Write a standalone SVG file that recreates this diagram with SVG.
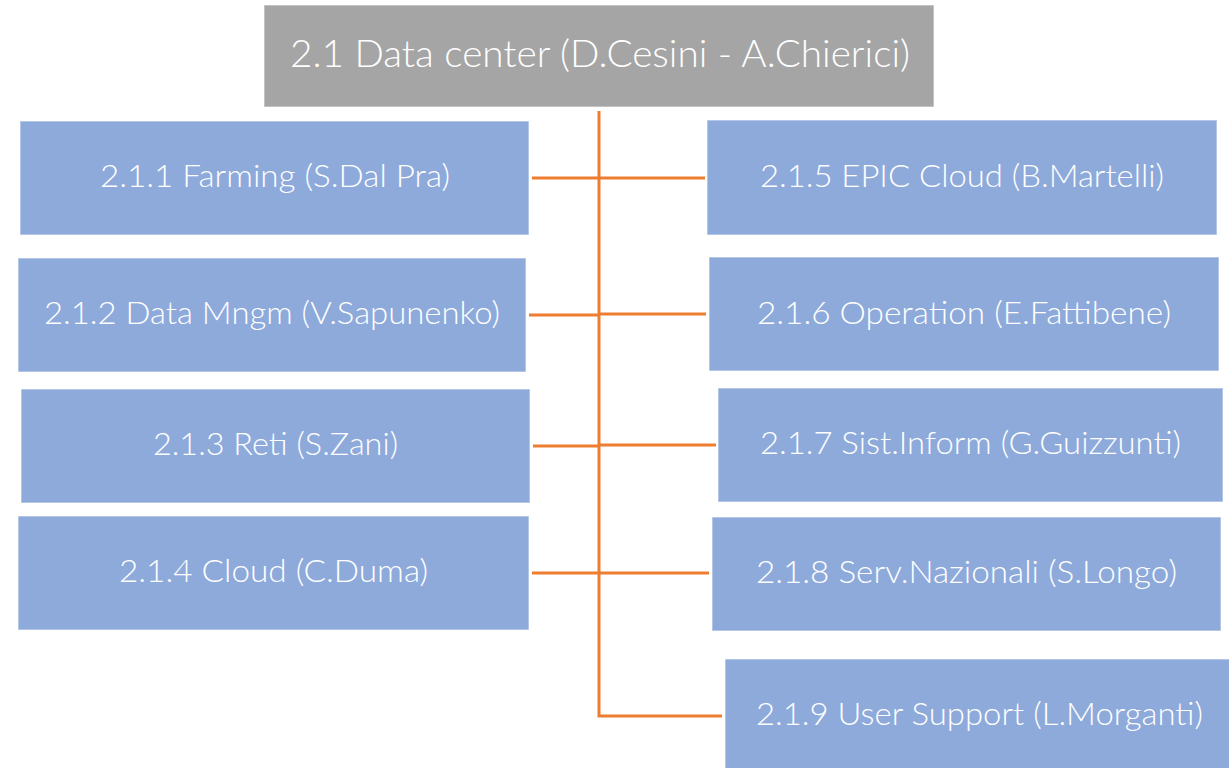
<svg xmlns="http://www.w3.org/2000/svg" width="1229" height="768" viewBox="0 0 1229 768">
  <style>
    .box { fill: #8EAADB; stroke: #ffffff; stroke-opacity: 0.45; stroke-width: 1.5; }
    .root { fill: #A5A5A5; stroke: #ffffff; stroke-opacity: 0.45; stroke-width: 1.5; }
    .lbl { font-family: Lato, "Open Sans", "Liberation Sans", sans-serif; font-weight: 300; font-size: 31px; fill: #ffffff; text-anchor: middle; }
    .lbl-root { font-size: 37px; }
    .wire { fill: none; stroke: #ED7D31; stroke-width: 3; }
  </style>
  <rect width="1229" height="768" fill="#ffffff"/>

  <!-- connectors -->
  <g id="connectors">
    <path class="wire" d="M599 111 V716 H722"/>
    <path class="wire" d="M532 178 H705"/>
    <path class="wire" d="M529 315 H599 M599 314 H706"/>
    <path class="wire" d="M533 446 H599 M599 445 H716"/>
    <path class="wire" d="M532 573 H709"/>
  </g>

  <!-- root -->
  <g id="n-2-1">
    <rect class="root" x="264" y="5" width="670" height="102"/>
    <text class="lbl lbl-root" x="600" y="67" textLength="620" lengthAdjust="spacingAndGlyphs">2.1 Data center (D.Cesini - A.Chierici)</text>
  </g>

  <!-- left column -->
  <g id="n-2-1-1">
    <rect class="box" x="20" y="121" width="509" height="114"/>
    <text class="lbl" x="275" y="187" textLength="350" lengthAdjust="spacingAndGlyphs">2.1.1 Farming (S.Dal Pra)</text>
  </g>
  <g id="n-2-1-2">
    <rect class="box" x="18" y="258" width="508" height="114"/>
    <text class="lbl" x="272" y="324" textLength="456" lengthAdjust="spacingAndGlyphs">2.1.2 Data Mngm (V.Sapunenko)</text>
  </g>
  <g id="n-2-1-3">
    <rect class="box" x="21" y="389" width="509" height="114"/>
    <text class="lbl" x="275.5" y="455" textLength="245" lengthAdjust="spacingAndGlyphs">2.1.3 Reti (S.Zani)</text>
  </g>
  <g id="n-2-1-4">
    <rect class="box" x="18" y="516" width="511" height="114"/>
    <text class="lbl" x="273.5" y="582" textLength="309" lengthAdjust="spacingAndGlyphs">2.1.4 Cloud (C.Duma)</text>
  </g>

  <!-- right column -->
  <g id="n-2-1-5">
    <rect class="box" x="707" y="120" width="510" height="115"/>
    <text class="lbl" x="962" y="187" textLength="404" lengthAdjust="spacingAndGlyphs">2.1.5 EPIC Cloud (B.Martelli)</text>
  </g>
  <g id="n-2-1-6">
    <rect class="box" x="709" y="257" width="510" height="114"/>
    <text class="lbl" x="964" y="324" textLength="414" lengthAdjust="spacingAndGlyphs">2.1.6 Operation (E.Fattibene)</text>
  </g>
  <g id="n-2-1-7">
    <rect class="box" x="718" y="388" width="505" height="114"/>
    <text class="lbl" x="970.5" y="454" textLength="421" lengthAdjust="spacingAndGlyphs">2.1.7 Sist.Inform (G.Guizzunti)</text>
  </g>
  <g id="n-2-1-8">
    <rect class="box" x="712" y="517" width="509" height="114"/>
    <text class="lbl" x="966.5" y="583" textLength="421" lengthAdjust="spacingAndGlyphs">2.1.8 Serv.Nazionali (S.Longo)</text>
  </g>
  <g id="n-2-1-9">
    <rect class="box" x="725" y="659" width="515" height="114"/>
    <text class="lbl" x="979.5" y="725" textLength="447" lengthAdjust="spacingAndGlyphs">2.1.9 User Support (L.Morganti)</text>
  </g>
</svg>
